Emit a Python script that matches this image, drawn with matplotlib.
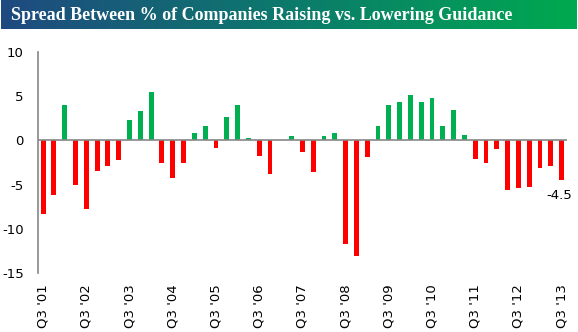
import matplotlib
matplotlib.use("Agg")
import matplotlib.pyplot as plt
import numpy as np
from matplotlib.colors import LinearSegmentedColormap

# Quarterly spread (% raising minus % lowering guidance), Q3 '01 .. Q3 '13
spread = [
    -8.3, -6.2, 4.0, -5.1, -7.8, -3.5, -2.9, -2.2, 2.3, 3.3,
    5.5, -2.5, -4.3, -2.5, 0.8, 1.6, -0.9, 2.6, 4.0, 0.3,
    -1.8, -3.8, 0.1, 0.5, -1.3, -3.6, 0.5, 0.8, -11.7, -13.1,
    -1.9, 1.6, 4.0, 4.4, 5.1, 4.3, 4.8, 1.6, 3.4, 0.6,
    -2.1, -2.5, -1.0, -5.6, -5.4, -5.3, -3.1, -2.9, -4.5,
]
tick_labels = ["Q3 '%02d" % yr for yr in range(1, 14)]
y_ticks = [10, 5, 0, -5, -10, -15]

GREEN = "#00B050"
RED = "#FF0000"
AXIS_GREY = "#868686"

W, H = 578, 332
fig = plt.figure(figsize=(W / 100, H / 100), dpi=100)

# Title banner with blue-to-green gradient
band = fig.add_axes([1 / W, 1 - 29 / H, 576 / W, 29 / H])
cmap = LinearSegmentedColormap.from_list("band", ["#1F4A80", "#0C7A6C", "#00A94F"])
band.imshow(np.linspace(0, 1, 256).reshape(1, -1), aspect="auto", cmap=cmap,
            extent=[0, 1, 0, 1])
band.set_axis_off()
band.text(10 / 576, 0.45, "Spread Between % of Companies Raising vs. Lowering Guidance",
          color="white", fontsize=13, fontweight="bold", family="Liberation Serif",
          ha="left", va="center", transform=band.transAxes)

ax = fig.add_axes([37.7 / W, (H - 273) / H, (567 - 37.7) / W, (273 - 52) / H])
x = np.arange(len(spread))
colors = [GREEN if v >= 0 else RED for v in spread]
ax.bar(x, spread, width=0.45, color=colors, zorder=2)
ax.axhline(0, color=AXIS_GREY, linewidth=1.2, zorder=3)

ax.set_xlim(-0.5, len(spread) - 0.5)
ax.set_ylim(-15, 10)
ax.set_yticks(y_ticks)
ax.set_yticklabels([str(v) for v in y_ticks])
ax.set_xticks(x[::4])
ax.set_xticklabels(tick_labels, rotation=90)
ax.tick_params(axis="y", length=0, pad=10, labelsize=9.5)
ax.tick_params(axis="x", length=0, pad=8, labelsize=9.5)

for side in ("top", "right", "bottom"):
    ax.spines[side].set_visible(False)
ax.spines["left"].set_color(AXIS_GREY)
ax.spines["left"].set_linewidth(1.2)

# Label the latest reading
ax.annotate("%.1f" % spread[-1], (x[-1], spread[-1]), xytext=(-2, -6),
            textcoords="offset points", ha="center", va="top", fontsize=9.5)

fig.savefig("out.png", dpi=100)
